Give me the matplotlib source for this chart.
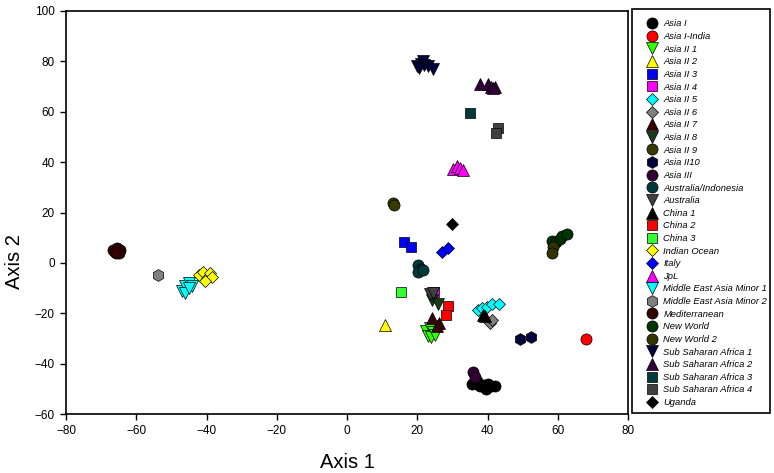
import matplotlib.pyplot as plt
from matplotlib.lines import Line2D
from matplotlib.patches import Rectangle

# group names in legend order
groups = ["Asia I", "Asia I-India", "Asia II 1", "Asia II 2", "Asia II 3", "Asia II 4",
          "Asia II 5", "Asia II 6", "Asia II 7", "Asia II 8", "Asia II 9", "Asia II10",
          "Asia III", "Australia/Indonesia", "Australia", "China 1", "China 2", "China 3",
          "Indian Ocean", "Italy", "JpL", "Middle East Asia Minor 1", "Middle East Asia Minor 2",
          "Mediterranean", "New World", "New World 2", "Sub Saharan Africa 1",
          "Sub Saharan Africa 2", "Sub Saharan Africa 3", "Sub Saharan Africa 4", "Uganda"]

# axis 1 values per group
x_vals = [
    [35.5, 37, 38, 39, 40, 41, 42, 39.5, 37.5],       # Asia I
    [68],                                             # Asia I-India
    [22.5, 23.5, 24.5, 23, 24, 25],                   # Asia II 1
    [10.8],                                           # Asia II 2
    [16.2, 18.2],                                     # Asia II 3
    [24.8],                                           # Asia II 4
    [37.3, 38.5, 39.9, 41.3, 43.3],                   # Asia II 5
    [40.7, 41.3],                                     # Asia II 6
    [24.2, 26.2, 25.6],                               # Asia II 7
    [24.2, 25.9],                                     # Asia II 8
    [13.1, 13.3],                                     # Asia II 9
    [49.3, 52.4],                                     # Asia II10
    [35.9, 36.4],                                     # Asia III
    [20.2, 21, 20.3, 21.5],                           # Australia/Indonesia
    [23.6, 24.6],                                     # Australia
    [38.7, 39.3],                                     # China 1
    [28.8, 28.2],                                     # China 2
    [15.4],                                           # China 3
    [-42, -41, -40, -39, -38.5, -40.5],               # Indian Ocean
    [27.0, 28.8],                                     # Italy
    [30.2, 31.2, 32.2, 33.0],                         # JpL
    [-47, -46, -45, -44, -46, -45],                   # Middle East Asia Minor 1
    [-53.8],                                          # Middle East Asia Minor 2
    [-66.5, -65.5, -64.5, -65.8, -64.8, -66],         # Mediterranean
    [58.5, 59.5, 60.6, 61.2, 62.6],                   # New World
    [58.7, 58.4],                                     # New World 2
    [20, 21, 22, 23, 24.5, 21.5, 20.5],               # Sub Saharan Africa 1
    [38, 40, 41, 42, 41.5],                           # Sub Saharan Africa 2
    [35.0],                                           # Sub Saharan Africa 3
    [43.0, 42.4],                                     # Sub Saharan Africa 4
    [29.9],                                           # Uganda
]

# axis 2 values per group
y_vals = [
    [-48, -47, -49, -48.5, -48, -49, -49, -50, -48.5],
    [-30.2],
    [-27, -26, -27.5, -29, -29.5, -28.5],
    [-24.5],
    [8.3, 6.3],
    [-11.6],
    [-18.7, -18, -17.5, -16.3, -16.3],
    [-23.9, -22.7],
    [-21.9, -23.9, -25.2],
    [-14.7, -16.3],
    [23.8, 23.0],
    [-30.2, -29.4],
    [-43.3, -45.3],
    [-0.8, -2.5, -3.6, -2.8],
    [-12.5, -12.0],
    [-20.7, -21.2],
    [-17.1, -20.7],
    [-11.6],
    [-5, -3.5, -6, -4, -5.5, -7],
    [4.4, 5.9],
    [37.2, 38.3, 37.5, 37.0],
    [-11, -9, -8, -9, -12, -10],
    [-4.8],
    [5, 6, 5, 3.8, 4, 4.5],
    [8.7, 8.3, 9.5, 10.5, 11.3],
    [6.3, 3.9],
    [78, 79, 78.5, 78, 77, 80, 77.5],
    [71, 71, 70, 70, 69.5],
    [59.5],
    [53.6, 51.6],
    [15.4],
]

colors = ["#000000", "#ff0000", "#33ff00", "#ffff00", "#0000ff", "#ff00ff",
          "#00ffff", "#808080", "#3a0000", "#173a17", "#3a3a00", "#00003a",
          "#330033", "#003a3a", "#404040", "#000000", "#ff0000", "#33ff33",
          "#ffff00", "#0000ff", "#ff00ff", "#00ffff", "#808080",
          "#330000", "#003300", "#333300", "#00003a",
          "#33003a", "#003a3a", "#404040", "#000000"]
markers = ["o", "o", "v", "^", "s", "s", "D", "D", "^", "v", "o", "h",
           "o", "o", "v", "^", "s", "s", "D", "D", "^", "v", "h",
           "o", "o", "o", "v", "^", "s", "s", "D"]
sizes = {"o": 8, "h": 8.5, "v": 9, "^": 9, "s": 7.5, "D": 6.5}

plt.rcParams['font.family'] = ['Liberation Sans', 'DejaVu Sans']
fig = plt.figure(figsize=(7.74, 4.73), dpi=100)
ax = fig.add_axes([66/774, 1-414/473, 562/774, 403/473])

handles = []
for name, xs, ys, c, m in zip(groups, x_vals, y_vals, colors, markers):
    ax.plot(xs, ys, linestyle="none", marker=m, markersize=sizes[m],
            markerfacecolor=c, markeredgecolor="black", markeredgewidth=0.5)
    handles.append(Line2D([], [], linestyle="none", marker=m, markersize=sizes[m],
                          markerfacecolor=c, markeredgecolor="black",
                          markeredgewidth=0.5, label=name))

ax.set_xlim(-80, 80)
ax.set_ylim(-60, 100)
ax.set_xticks(range(-80, 81, 20))
ax.set_yticks(range(-60, 101, 20))
ax.tick_params(direction="out", length=4.5, width=1, labelsize=8.5, top=False, right=False)
for s in ax.spines.values():
    s.set_linewidth(1.2)
ax.set_xlabel("Axis 1", fontsize=14.5)
ax.set_ylabel("Axis 2", fontsize=14.5)
ax.xaxis.set_label_coords(0.5, -(462 - 414) / 403, transform=ax.transAxes)
ax.yaxis.set_label_coords(-(66 - 15) / 562, (414 - 262) / 403, transform=ax.transAxes)
ax.xaxis.label.set_va("center")
ax.yaxis.label.set_va("center")

# legend box drawn separately so padding matches
fig.patches.append(Rectangle((632/774, 1-413/473), 138/774, 404/473, transform=fig.transFigure,
                             fill=False, edgecolor="black", linewidth=1.2))
leg = fig.legend(handles=handles, loc="upper left", bbox_to_anchor=(647/774, 1-19.5/473),
                 borderaxespad=0, borderpad=0, frameon=False,
                 prop={"size": 6.75, "style": "italic"}, labelspacing=0.386,
                 handletextpad=0.75, handlelength=1.0)

fig.savefig("out.png", dpi=100)
